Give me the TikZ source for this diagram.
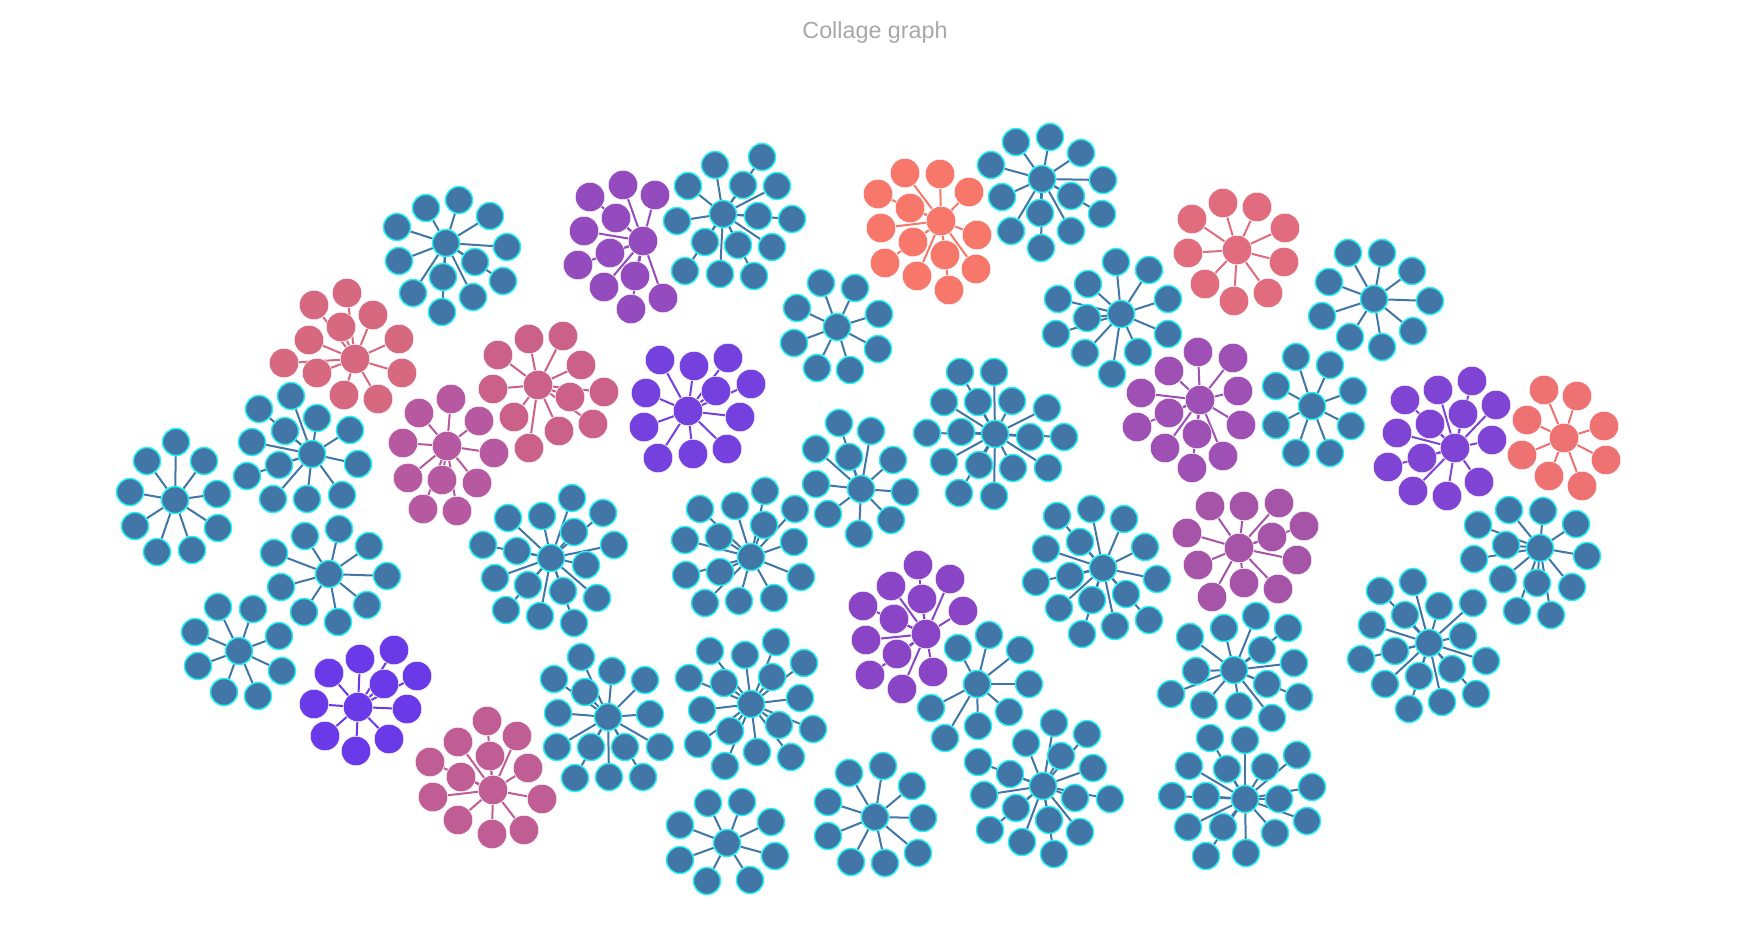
\documentclass[tikz,border=0pt]{standalone}
\usepackage{fontspec}
\setmainfont{Liberation Sans}
\pgfdeclarelayer{back}
\pgfdeclarelayer{bg}
\pgfsetlayers{back,bg,main}
\definecolor{nblue}{HTML}{4276A6}
\definecolor{ncyan}{HTML}{22F2F4}
\definecolor{ttl}{HTML}{A8A8A8}
\definecolor{cRdA}{HTML}{F7786B}
\definecolor{cRdB}{HTML}{EE7272}
\definecolor{cRpA}{HTML}{E06C7D}
\definecolor{cRA}{HTML}{D6687F}
\definecolor{cRB}{HTML}{CB6188}
\definecolor{cPA}{HTML}{C15D95}
\definecolor{cMA}{HTML}{B659A0}
\definecolor{cPuC}{HTML}{A654A8}
\definecolor{cPuB}{HTML}{9E50B5}
\definecolor{cPuA}{HTML}{944BBD}
\definecolor{cPuD}{HTML}{8A45C7}
\definecolor{cVC}{HTML}{8044D5}
\definecolor{cVB}{HTML}{7541DE}
\definecolor{cVA}{HTML}{6A3AE8}
\tikzset{
  nd/.style={circle, inner sep=0pt, minimum size=27pt},
  blu/.style={nd, fill=nblue, draw=ncyan, line width=1.5pt},
  col/.style={nd, fill=#1, draw=white, line width=0.5pt, minimum size=29.5pt},
  ed/.style={line width=2pt, draw=#1},
  ttlstyle/.style={text=ttl, font=\fontsize{23.3}{28}\selectfont, inner sep=0pt, anchor=base}
}
\gdef\edgelist{}
% #1 name, #2 node style, #3 edge colour, #4 cx, #5 cy, #6 leaves dx/dy
\newcommand\clus[6]{%
  \node[#2] (#1) at (#4,#5) {};
  \foreach \dx/\dy [count=\i] in {#6}{%
    \node[#2] (#1-\i) at ({#4+\dx},{#5+\dy}) {};
    \xdef\lastcount{\i}%
  }%
  \ifx\edgelist\empty\xdef\edgelist{#1/\lastcount/#3}\else\xdef\edgelist{\edgelist,#1/\lastcount/#3}\fi
}
\begin{document}
\begin{tikzpicture}[x=1pt,y=-1pt]
\begin{pgfonlayer}{back}
\fill[white] (0,0) rectangle (1739,938);
\end{pgfonlayer}
\useasboundingbox (0,0) rectangle (1739,938);
\node[ttlstyle] (title) at (875,38) {Collage graph};

\clus{b1}{blu}{nblue}{446}{243}{-20/-35, 13/-43, 44/-27, 61/4, 57/38, 29/19, -3/34, 27/54, -4/69, -33/50, -47/18, -49/-16}
\clus{r1}{col=cRA}{cRA}{355}{359}{-41/-54, -8/-66, 18/-44, 44/-20, 47/14, 23/40, -11/36, -38/14, -71/4, -46/-19, -14/-32}
\clus{m1}{col=cMA}{cMA}{447}{446}{-28/-33, 4/-47, 32/-25, 47/7, 30/37, 10/65, -24/63, -5/34, -39/32, -44/-3}
\clus{b2}{blu}{nblue}{312}{454}{-21/-58, 5/-36, 38/-24, 46/10, 30/41, -5/45, -39/45, -65/22, -33/11, -60/-12, -27/-23, -53/-45}
\clus{b3}{blu}{nblue}{175}{500}{1/-58, -28/-39, 29/-39, -45/-8, 42/-6, -40/26, 43/28, -18/52, 17/50}
\clus{b4}{blu}{nblue}{329}{574}{-24/-38, 10/-45, 40/-28, 58/2, 38/31, 9/48, -25/38, -48/13, -55/-21}
\clus{b5}{blu}{nblue}{239}{651}{-21/-44, 14/-42, 40/-15, 43/20, 19/45, -15/41, -41/15, -44/-19}
\clus{v1}{col=cVA}{cVA}{358}{707}{2/-48, 36/-57, 59/-31, 49/2, 31/32, -2/44, -33/29, -44/-3, -29/-34, 26/-23}
\clus{p1}{col=cPA}{cPA}{493}{790}{-6/-69, 24/-54, -3/-34, 35/-22, 49/9, 31/40, -1/44, -35/-48, -63/-28, -32/-13, -60/7, -35/30}
\clus{pu1}{col=cPuA}{cPuA}{643}{241}{-20/-56, 12/-46, -53/-44, -27/-23, -59/-10, -33/12, -65/24, -39/46, -8/35, 20/57, -12/68}
\clus{b6}{blu}{nblue}{723}{214}{-8/-49, 39/-57, 20/-29, 54/-28, 69/5, 35/2, 49/33, 15/31, -3/60, 31/62, -38/57, -18/28, -46/7, -35/-28}
\clus{r2}{col=cRB}{cRB}{538}{385}{-9/-46, 25/-49, 43/-20, 66/7, 55/39, 21/46, -9/63, -24/32, -45/4, -40/-30, 32/12}
\clus{v2}{col=cVB}{cVB}{688}{411}{-28/-51, 6/-45, 40/-53, 63/-27, 28/-20, 52/6, 39/38, 5/43, -30/47, -44/16, -42/-18}
\clus{b7}{blu}{nblue}{837}{327}{-16/-44, 18/-39, 42/-13, 41/22, 13/43, -20/41, -43/16, -40/-19}
\clus{rd1}{col=cRdA}{cRdA}{941}{221}{-36/-48, -1/-47, 28/-29, 36/14, 35/48, 8/69, -24/55, -56/42, -60/7, -63/-27, -31/-13, -28/21, 4/34}
\clus{b8}{blu}{nblue}{1042}{179}{-26/-37, 8/-42, 39/-26, 61/1, 60/35, 29/17, -2/34, 29/52, -1/69, -31/52, -40/18, -51/-14}
\clus{b9}{blu}{nblue}{1121}{314}{-5/-52, 28/-44, 47/-15, 47/20, 17/38, -9/60, -36/39, -65/20, -63/-15, -33/-30, -34/4}
\clus{b10}{blu}{nblue}{995}{434}{-35/-62, -1/-62, 17/-33, 52/-26, 69/3, 53/34, 18/34, -1/62, -36/59, -16/31, -51/28, -68/-1, -34/-2, -51/-32, -17/-32, 35/3}
\clus{rp1}{col=cRpA}{cRpA}{1237}{250}{-14/-47, 20/-43, 48/-22, 47/12, 31/43, -3/51, -32/34, -49/3, -45/-31}
\clus{pu2}{col=cPuB}{cPuB}{1200}{400}{-2/-48, 33/-42, -31/-29, -59/-7, 38/-9, -31/13, -63/27, 41/25, -3/34, -35/48, 23/56, -8/68}
\clus{b11}{blu}{nblue}{861}{489}{-22/-66, 10/-58, 32/-29, 44/3, 30/31, -2/45, -33/25, -45/-5, -45/-40, -12/-32}
\clus{b12}{blu}{nblue}{1374}{299}{-26/-46, 8/-46, 38/-28, 56/2, 39/32, 8/48, -24/38, -52/17, -45/-17}
\clus{b13}{blu}{nblue}{1312}{406}{-16/-49, 18/-41, 41/-15, 39/20, 18/47, -16/47, -36/19, -36/-20}
\clus{v3}{col=cVC}{cVC}{1455}{448}{-50/-48, -17/-58, 17/-67, 41/-43, 37/-8, 24/34, -8/48, -42/43, -67/19, -58/-15, -25/-24, 8/-34, -33/10}
\clus{rd2}{col=cRdB}{cRdB}{1564}{438}{-20/-48, 13/-42, 40/-12, 42/22, 18/48, -15/38, -42/17, -37/-18}
\clus{b14}{blu}{nblue}{1540}{548}{-31/-38, 3/-37, 36/-24, 47/8, 32/39, 11/67, -23/63, -3/35, -37/31, -66/11, -62/-23, -34/-3}
\clus{b15}{blu}{nblue}{1429}{643}{-49/-52, -16/-61, 10/-37, 44/-40, 34/-7, 57/18, 47/51, 13/59, -20/66, -44/41, -68/16, -57/-18, -24/-28, -34/8, -10/33, 23/26}
\clus{pu3}{col=cPuC}{cPuC}{1239}{548}{5/-42, 40/-45, 65/-22, 58/12, 39/41, 5/35, 33/-11, -29/-42, -52/-15, -41/17, -27/49}
\clus{b16}{blu}{nblue}{1234}{670}{22/-54, 54/-42, 28/-20, 60/-7, 33/14, 65/27, 38/48, 5/36, -44/-33, -10/-42, -38/1, -63/24, -30/35}
\clus{b17}{blu}{nblue}{1245}{799}{0/-59, 20/-32, 52/-44, 67/-12, 34/0, 62/22, 30/34, 1/54, -22/28, -18/-30, -35/-61, -56/-33, -73/-3, -39/-3, -57/28, -39/57}
\clus{b18}{blu}{nblue}{1103}{568}{-46/-52, -12/-59, 21/-49, 42/-21, 54/11, 23/26, 46/52, 12/58, -21/66, -11/32, -44/40, -67/14, -57/-19, -23/-26, -33/8}
\clus{b19}{blu}{nblue}{977}{684}{-19/-36, 12/-49, 43/-34, 52/0, 32/28, 1/42, -32/54, -46/24}
\clus{pu4}{col=cPuD}{cPuD}{926}{634}{-8/-69, 24/-55, -35/-48, -4/-35, 37/-23, -63/-28, -32/-15, -60/6, -29/20, -56/41, -24/55, 7/38}
\clus{b20}{blu}{nblue}{1043}{786}{11/-63, 44/-52, 18/-30, 50/-18, -17/-43, -33/-12, -65/-24, -59/9, -27/22, 32/12, 67/13, -53/44, -21/56, 6/34, 37/46, 11/68}
\clus{b21}{blu}{nblue}{875}{817}{-26/-44, 8/-51, 37/-31, 48/1, 43/36, 10/46, -24/45, -47/19, -47/-15}
\clus{b23}{blu}{nblue}{551}{558}{21/-60, 52/-45, 23/-26, -9/-42, -43/-40, -34/-7, -68/-13, -56/20, -23/27, -45/52, -11/58, 23/65, 12/33, 46/40, 35/7, 63/-13}
\clus{b24}{blu}{nblue}{751}{557}{-51/-48, -16/-51, 14/-66, 44/-48, 13/-32, 43/-15, 50/20, 23/41, -12/44, -46/46, -65/18, -31/15, -66/-17, -32/-20}
\clus{b25}{blu}{nblue}{608}{717}{-27/-60, 4/-46, 37/-37, 42/-3, 52/30, 35/60, 1/60, -33/61, -51/30, -50/-4, -54/-38, -23/-25, -17/30, 17/30}
\clus{b26}{blu}{nblue}{751}{704}{-41/-53, -6/-49, 25/-62, 53/-41, 21/-27, 49/-6, 62/25, 28/21, 40/53, 6/48, -26/62, -21/27, -53/40, -49/6, -62/-26, -27/-21}
\clus{b22}{blu}{nblue}{727}{843}{-19/-40, 15/-41, 44/-21, 48/13, 23/37, -20/38, -47/17, -47/-18}

\begin{pgfonlayer}{bg}
\foreach \c/\n/\col in \edgelist {
  \foreach \i in {1,...,\n} { \draw[ed=\col] (\c) -- (\c-\i); }
}
\end{pgfonlayer}
\end{tikzpicture}
\end{document}
